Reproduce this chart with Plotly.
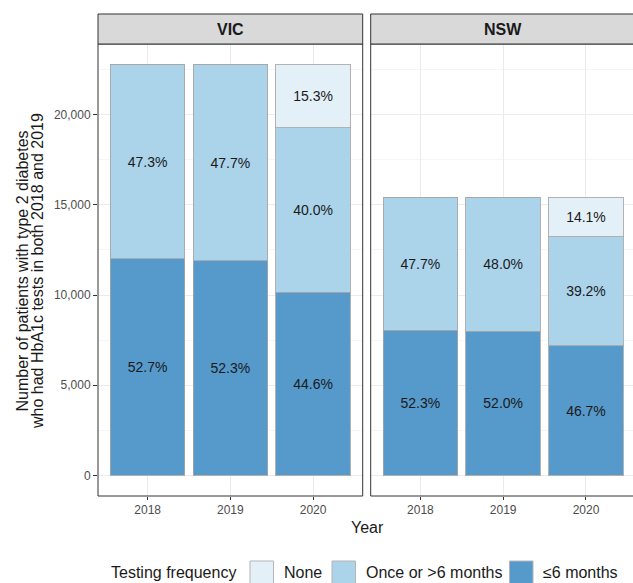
import plotly.graph_objects as go

# ---------------- data ----------------
years = ["2018", "2019", "2020"]
panels = ["VIC", "NSW"]

vic_le6 = [12005, 11914, 10160]
vic_once = [10775, 10866, 9112]
vic_none = [0, 0, 3485]
vic_le6_lbl = ["52.7%", "52.3%", "44.6%"]
vic_once_lbl = ["47.3%", "47.7%", "40.0%"]
vic_none_lbl = ["", "", "15.3%"]

nsw_le6 = [8054, 8008, 7192]
nsw_once = [7346, 7392, 6037]
nsw_none = [0, 0, 2171]
nsw_le6_lbl = ["52.3%", "52.0%", "46.7%"]
nsw_once_lbl = ["47.7%", "48.0%", "39.2%"]
nsw_none_lbl = ["", "", "14.1%"]

series_names = ["≤6 months", "Once or >6 months", "None"]
legend_title = "Testing frequency"
y_title_1 = "Number of patients with type 2 diabetes"
y_title_2 = "who had HbA1c tests in both 2018 and 2019"
x_title = "Year"
y_ticks = [0, 5000, 10000, 15000, 20000]

# ---------------- style ----------------
colors = {"≤6 months": "#5699CB", "Once or >6 months": "#ABD3EA", "None": "#E4F0F8"}
FONT = "Liberation Sans, Arial, Helvetica, sans-serif"
W, H = 633, 583
L, R, T, B = 98, 0, 44, 87
PW = W - L - R
PH = H - T - B


def px_x(x):
    return (x - L) / PW


def px_y(y):
    return (H - B - y) / PH


fig = go.Figure()

data = {
    "VIC": ([vic_le6, vic_once, vic_none], [vic_le6_lbl, vic_once_lbl, vic_none_lbl], "x", "y"),
    "NSW": ([nsw_le6, nsw_once, nsw_none], [nsw_le6_lbl, nsw_once_lbl, nsw_none_lbl], "x2", "y2"),
}
for p in panels:
    vals, lbls, xa, ya = data[p]
    for name, v, t in zip(series_names, vals, lbls):
        fig.add_trace(go.Bar(
            x=years, y=v, text=t, name=name, xaxis=xa, yaxis=ya,
            width=0.9, showlegend=False,
            marker=dict(color=colors[name], line=dict(color="rgba(165,165,165,0.85)", width=1)),
            textposition="inside", insidetextanchor="middle", constraintext="none",
            textangle=0, textfont=dict(size=14, color="#1A1A1A", family=FONT),
            hoverinfo="x+y+name",
        ))

vic_dom = [0, px_x(362.7)]
nsw_dom = [px_x(370.7), 1]
yrange = [-1139, 23919]

common_x = dict(type="category", categoryorder="array", categoryarray=years,
                showgrid=True, gridcolor="#EBEBEB", gridwidth=1, zeroline=False,
                ticks="outside", ticklen=3, tickcolor="#333333", showline=False,
                tickfont=dict(size=12, color="#4D4D4D", family=FONT))
common_y = dict(range=yrange, tickvals=y_ticks, tickformat=",", showgrid=True,
                gridcolor="#EBEBEB", gridwidth=1, zeroline=False, showline=False,
                minor=dict(tick0=0, dtick=2500, showgrid=True, gridcolor="#F5F5F5", ticks=""),
                tickfont=dict(size=12, color="#4D4D4D", family=FONT))

fig.update_layout(
    width=W, height=H, barmode="stack", bargap=0.1,
    margin=dict(l=L, r=R, t=T, b=B, autoexpand=False),
    paper_bgcolor="white", plot_bgcolor="white",
    font=dict(family=FONT, color="#1A1A1A"),
    showlegend=False,
    xaxis=dict(domain=vic_dom, range=[-0.6, 2.6], anchor="y", **common_x),
    xaxis2=dict(domain=nsw_dom, range=[-0.6, 2.568], anchor="y2", **common_x),
    yaxis=dict(domain=[0, 1], anchor="x", ticks="outside", ticklen=4, tickcolor="#333333", **common_y),
    yaxis2=dict(domain=[0, 1], anchor="x2", matches="y", showticklabels=False, ticks="", **common_y),
)

shapes = []
# panel borders
shapes.append(dict(type="rect", xref="paper", yref="paper", x0=vic_dom[0], x1=vic_dom[1], y0=0, y1=1,
                   line=dict(color="#333333", width=1), fillcolor="rgba(0,0,0,0)", layer="above"))
shapes.append(dict(type="rect", xref="paper", yref="paper", x0=nsw_dom[0], x1=1.02, y0=0, y1=1,
                   line=dict(color="#333333", width=1), fillcolor="rgba(0,0,0,0)", layer="above"))
# strips
strip_top = px_y(14)
shapes.append(dict(type="rect", xref="paper", yref="paper", x0=vic_dom[0], x1=vic_dom[1], y0=1, y1=strip_top,
                   line=dict(color="#333333", width=1), fillcolor="#D9D9D9", layer="above"))
shapes.append(dict(type="rect", xref="paper", yref="paper", x0=nsw_dom[0], x1=1.02, y0=1, y1=strip_top,
                   line=dict(color="#333333", width=1), fillcolor="#D9D9D9", layer="above"))


def ann(text, x, y, size, xanchor="center", angle=0):
    return dict(text=text, xref="paper", yref="paper", x=x, y=y, xanchor=xanchor, yanchor="middle",
                textangle=angle, showarrow=False, font=dict(size=size, color="#1A1A1A", family=FONT))


annotations = []
strip_mid = px_y(29)
annotations.append(ann("<b>VIC</b>", sum(vic_dom) / 2, strip_mid, 16))
annotations.append(ann("<b>NSW</b>", (nsw_dom[0] + px_x(635.4)) / 2, strip_mid, 16))
# axis titles
annotations.append(ann(y_title_1, px_x(21.5), px_y(271), 16, angle=-90))
annotations.append(ann(y_title_2, px_x(37), px_y(271), 16, angle=-90))
annotations.append(ann(x_title, px_x(367), px_y(527), 16))

# legend (drawn manually to match key size)
leg_y = px_y(572.5)
annotations.append(ann(legend_title, px_x(109), leg_y, 16, xanchor="left"))
legend_items = [("None", 250, 282), ("Once or >6 months", 332, 364), ("≤6 months", 509.5, 541)]
for name, bx, tx in legend_items:
    shapes.append(dict(type="rect", xref="paper", yref="paper", x0=px_x(bx), x1=px_x(bx + 23.5),
                       y0=px_y(561), y1=px_y(585), fillcolor=colors[name],
                       line=dict(color="#B5B5B5", width=1)))
    annotations.append(ann(name, px_x(tx), leg_y, 16, xanchor="left"))

fig.update_layout(shapes=shapes, annotations=annotations)
fig.write_html("out.html", config={"displayModeBar": False},
               post_script="document.body.style.margin='0';document.body.style.overflow='hidden';")
